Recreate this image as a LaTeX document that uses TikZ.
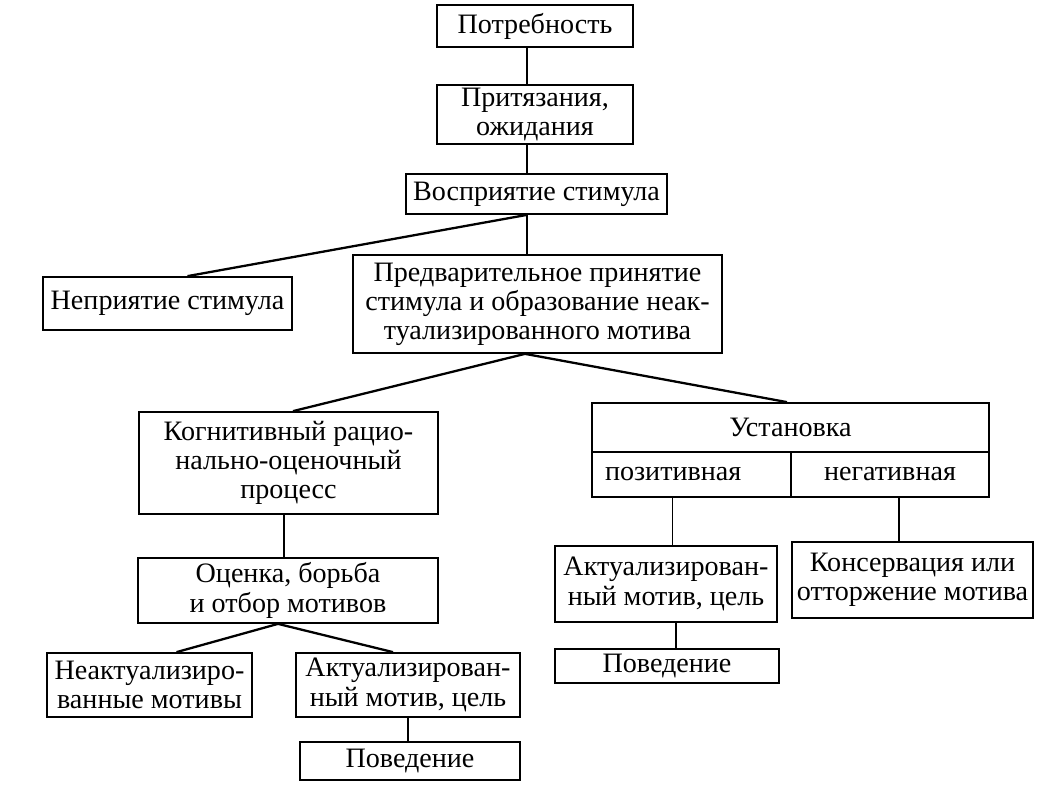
\documentclass[tikz,border=0pt]{standalone}
\usepackage{fontspec}
\setmainfont{Liberation Serif}
\usepackage{tikz}
\usetikzlibrary{positioning}

\begin{document}
\begin{tikzpicture}[x=0.02cm, y=-0.02cm,
    box/.style={draw, line width=1pt, align=center, inner sep=0pt, font=\fontsize{16}{16.6}\selectfont},
    link/.style={line width=1pt}]
    \useasboundingbox (0,0) rectangle (1041,787);

    % Top chain
    \node[box, minimum width=3.92cm, minimum height=0.84cm] (potr) at (535,26) {Потребность};
    \node[box, minimum width=3.92cm, minimum height=1.18cm] (prit) at (535,114.5) {Притязания,\\ожидания};
    \node[box, minimum width=5.22cm, minimum height=0.80cm] (vospr) at (536.5,194) {Восприятие стимула};
    \node[box, minimum width=4.98cm, minimum height=1.06cm] (nepr) at (167.5,303.5) {Неприятие стимула};
    \node[box, minimum width=7.38cm, minimum height=1.96cm] (predv) at (537.5,304) {Предварительное принятие\\стимула и образование неак-\\туализированного мотива};

    % Left branch
    \node[box, minimum width=5.98cm, minimum height=2.04cm] (kogn) at (288.5,463) {Когнитивный рацио-\\нально-оценочный\\процесс};
    \node[box, minimum width=6.00cm, minimum height=1.30cm] (ocen) at (288,590.5) {Оценка, борьба\\и отбор мотивов};
    \node[box, minimum width=4.10cm, minimum height=1.28cm] (neakt) at (149.5,685) {Неактуализиро-\\ванные мотивы};
    \node[box, minimum width=4.48cm, minimum height=1.28cm] (aktL) at (408,685) {Актуализирован-\\ный мотив, цель};
    \node[box, minimum width=4.40cm, minimum height=0.76cm] (povL) at (410,761) {Поведение};

    % Right branch
    \node[box, minimum width=7.94cm, minimum height=0.98cm] (ust) at (790.5,427.5) {Установка};
    \node[box, minimum width=3.98cm, minimum height=0.90cm, text width=3.46cm, inner xsep=0.26cm, align=left] (poz) at (691.5,474.5) {позитивная};
    \node[box, minimum width=3.96cm, minimum height=0.90cm] (neg) at (890,474.5) {негативная};
    \node[box, minimum width=4.44cm, minimum height=1.52cm] (aktR) at (666,584) {Актуализирован-\\ный мотив, цель};
    \node[box, minimum width=4.82cm, minimum height=1.52cm] (kons) at (912.5,580) {Консервация или\\отторжение мотива};
    \node[box, minimum width=4.48cm, minimum height=0.68cm] (povR) at (667,666) {Поведение};

    % Lines
    \draw[link] ([xshift=-0.16cm]potr.south) -- ([xshift=-0.16cm]potr.south |- prit.north);
    \draw[link] ([xshift=-0.16cm]prit.south) -- ([xshift=-0.16cm]prit.south |- vospr.north);
    \draw[link] ([xshift=-0.19cm]vospr.south) -- ([xshift=-0.19cm]vospr.south |- predv.north);
    \draw[link, line width=1.3pt] ([xshift=-0.19cm]vospr.south) -- ([xshift=0.4cm]nepr.north);
    \draw[link, line width=1.3pt] ([xshift=-0.25cm]predv.south) -- ([xshift=0.09cm]kogn.north);
    \draw[link, line width=1.3pt] ([xshift=-0.25cm]predv.south) -- ([xshift=-0.07cm]ust.north);
    \draw[link] ([xshift=-0.09cm]kogn.south) -- ([xshift=-0.09cm]kogn.south |- ocen.north);
    \draw[link, line width=1.3pt] ([xshift=-0.2cm]ocen.south) -- ([xshift=0.54cm]neakt.north);
    \draw[link, line width=1.3pt] ([xshift=-0.2cm]ocen.south) -- ([xshift=-0.3cm]aktL.north);
    \draw[link] (aktL.south) -- (aktL.south |- povL.north);
    \draw[link] ([xshift=-0.38cm]poz.south) -- ([xshift=-0.38cm]poz.south |- aktR.north);
    \draw[link] ([xshift=0.18cm]neg.south) -- ([xshift=0.18cm]neg.south |- kons.north);
    \draw[link] ([xshift=0.2cm]aktR.south) -- ([xshift=0.2cm]aktR.south |- povR.north);
\end{tikzpicture}
\end{document}
